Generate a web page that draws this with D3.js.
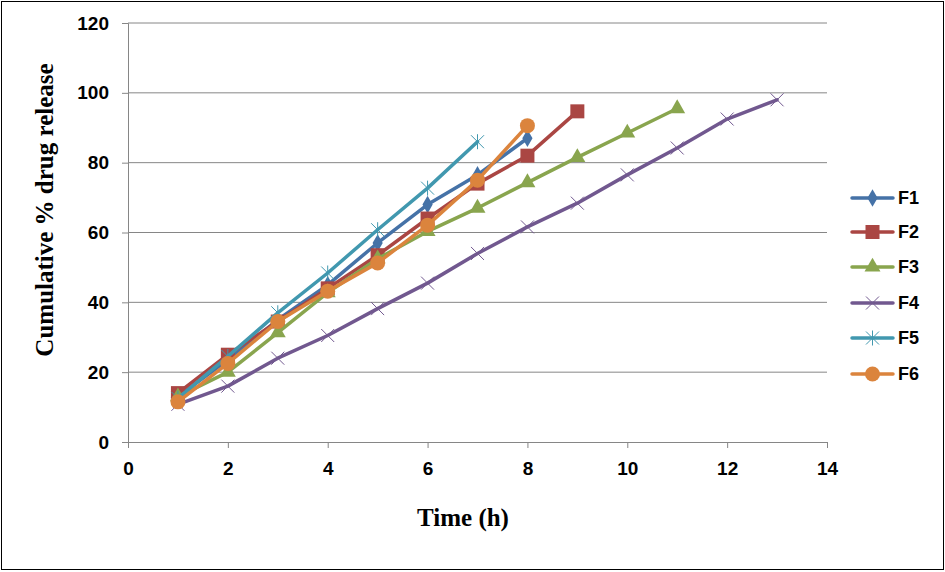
<!DOCTYPE html>
<html><head><meta charset="utf-8">
<script src="https://cdn.jsdelivr.net/npm/d3@7"></script>
<style>body{margin:0;background:#fff}svg{display:block}</style>
</head><body>
<script>
const seriesNames = ["F1","F2","F3","F4","F5","F6"];
const F1 = [13, 23.5, 35, 45, 57, 68, 76.5, 87];
const F2 = [14, 25, 34.5, 44, 53.5, 64, 74, 82, 94.7];
const F3 = [13, 20, 31.3, 42.8, 52.5, 60.3, 67, 74.3, 81.5, 88.5, 95.5];
const F4 = [10.8, 16, 24, 30.5, 38.2, 45.5, 54, 61.6, 68.4, 76.5, 84.2, 92.5, 98];
const F5 = [12.5, 24.5, 37, 48.4, 60.8, 72.7, 86];
const F6 = [11.5, 22.5, 34.5, 43.2, 51.3, 62.1, 75, 90.6];
const xTicks = [0,2,4,6,8,10,12,14];
const yTicks = [0,20,40,60,80,100,120];
const colors = ["#4572A7","#AA4643","#89A54E","#71588F","#4198AF","#DB843D"];
const markers = ["diamond","square","triangle","x","asterisk","circle"];

const all = [F1,F2,F3,F4,F5,F6];
const W = 945, H = 572;
const svg = d3.select("body").append("svg").attr("width",W).attr("height",H);
svg.append("rect").attr("x",1.5).attr("y",1.5).attr("width",W-3).attr("height",H-4)
  .attr("fill","#fff").attr("stroke","#000").attr("stroke-width",1);

const x = d3.scaleLinear().domain([0,14]).range([128,827]);
const y = d3.scaleLinear().domain([0,120]).range([442,23]);

// gridlines
svg.append("g").selectAll("line").data(yTicks.filter(d=>d>0)).join("line")
  .attr("x1",x(0)).attr("x2",x(14)).attr("y1",d=>y(d)).attr("y2",d=>y(d))
  .attr("stroke","#868686").attr("stroke-width",1);

const tickFont = "bold 19px 'Liberation Sans', Arial, sans-serif";
const yAxis = svg.append("g").attr("transform",`translate(${x(0)},0)`)
  .call(d3.axisLeft(y).tickValues(yTicks).tickSize(6).tickPadding(13).tickFormat(d3.format("d")));
const xAxis = svg.append("g").attr("transform",`translate(0,${y(0)})`)
  .call(d3.axisBottom(x).tickValues(xTicks).tickSize(6).tickPadding(14).tickFormat(d3.format("d")));
[yAxis,xAxis].forEach(a=>{
  a.select(".domain").attr("stroke","#868686");
  a.selectAll(".tick line").attr("stroke","#868686");
  a.selectAll("text").style("font",tickFont).attr("fill","#000");
});

function drawMarker(g, type, color, cx, cy){
  if(type==="diamond"){
    g.append("path").attr("d",d3.symbol(d3.symbolDiamond,90)()).attr("transform",`translate(${cx},${cy})`).attr("fill",color);
  } else if(type==="square"){
    g.append("rect").attr("x",cx-7).attr("y",cy-7).attr("width",14).attr("height",14).attr("fill",color);
  } else if(type==="triangle"){
    g.append("path").attr("d",d3.symbol(d3.symbolTriangle,110)()).attr("transform",`translate(${cx},${cy})`).attr("fill",color);
  } else if(type==="circle"){
    g.append("circle").attr("cx",cx).attr("cy",cy).attr("r",7.5).attr("fill",color);
  } else if(type==="x"){
    const s=6.5;
    g.append("path").attr("d",`M${cx-s},${cy-s}L${cx+s},${cy+s}M${cx-s},${cy+s}L${cx+s},${cy-s}`)
      .attr("stroke",color).attr("stroke-width",1).attr("fill","none");
  } else if(type==="asterisk"){
    const s=6.5;
    g.append("path").attr("d",`M${cx-s},${cy-s}L${cx+s},${cy+s}M${cx-s},${cy+s}L${cx+s},${cy-s}M${cx},${cy-s-1}L${cx},${cy+s+1}`)
      .attr("stroke",color).attr("stroke-width",1).attr("fill","none");
  }
}

const line = d3.line().x(d=>x(d[0])).y(d=>y(d[1]));
all.forEach((vals,i)=>{
  const pts = vals.map((v,j)=>[j+1,v]);
  const g = svg.append("g");
  g.append("path").attr("d",line(pts)).attr("fill","none").attr("stroke",colors[i])
    .attr("stroke-width",3.5).attr("stroke-linejoin","round").attr("stroke-linecap","round");
  pts.forEach(p=>drawMarker(g, markers[i], colors[i], x(p[0]), y(p[1])));
});

// legend
const legY = [198,232,267,303,338,374];
seriesNames.forEach((n,i)=>{
  const g = svg.append("g");
  g.append("line").attr("x1",852).attr("x2",893).attr("y1",legY[i]).attr("y2",legY[i])
    .attr("stroke",colors[i]).attr("stroke-width",3.5).attr("stroke-linecap","round");
  drawMarker(g, markers[i], colors[i], 872.5, legY[i]);
  g.append("text").attr("x",898).attr("y",legY[i]).attr("dy","0.36em").text(n)
    .style("font","bold 18px 'Liberation Sans', Arial, sans-serif");
});

// axis titles
svg.append("text").attr("x",463).attr("y",526).attr("text-anchor","middle").text("Time (h)")
  .style("font","bold 25px 'Liberation Serif', 'Times New Roman', serif");
svg.append("text").attr("transform","translate(53,210) rotate(-90)").attr("text-anchor","middle")
  .text("Cumulative % drug release")
  .style("font","bold 25px 'Liberation Serif', 'Times New Roman', serif");
</script>
</body></html>
